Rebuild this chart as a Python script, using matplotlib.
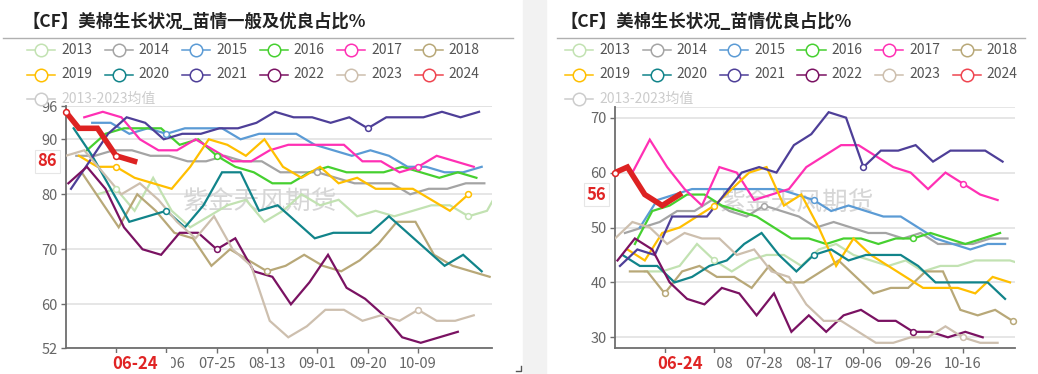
import numpy as np
import pandas as pd
import matplotlib
matplotlib.use("Agg")
import matplotlib.pyplot as plt
from matplotlib.lines import Line2D
from matplotlib.patches import Rectangle

plt.rcParams["font.family"] = ["Noto Sans CJK SC", "DejaVu Sans"]

# === 1. Data ===
years = ["2013", "2014", "2015", "2016", "2017", "2018",
         "2019", "2020", "2021", "2022", "2023", "2024"]
colors = ["#c2e2b2", "#a4a4a4", "#5b9bd5", "#46d030", "#ff30b4", "#b8a878",
          "#ffbf00", "#11848a", "#4e3f98", "#7a1262", "#cdbfae", "#dd2222"]

# first weekly report (MM-DD) of each season 2013..2023, weekly after that
first_dates = ["06-10", "06-02", "06-08", "06-06", "06-05", "06-04",
               "06-03", "06-01", "05-31", "05-30", "05-29"]
dates_2024 = ["05-29", "06-03", "06-10", "06-17", "06-24"]

# 苗情一般及优良占比 (%)
gf_2013 = [80, 81, 77, 83, 77, 74, 76, 78, 79, 75, 77, 80, 78, 79, 76, 77, 76, 77, 78, 78, 76, 77, 83]
gf_2014 = [87, 87, 88, 88, 87, 87, 86, 86, 87, 86, 86, 84, 84, 84, 83, 82, 82, 82, 80, 81, 81, 82, 82]
gf_2015 = [93, 93, 91, 92, 91, 92, 92, 92, 90, 91, 91, 91, 89, 88, 87, 88, 87, 85, 85, 84, 84, 85]
gf_2016 = [88, 91, 92, 92, 92, 89, 90, 87, 85, 84, 82, 82, 84, 85, 84, 84, 84, 85, 84, 83, 84, 83]
gf_2017 = [94, 95, 94, 90, 88, 88, 90, 88, 86, 86, 88, 89, 89, 89, 89, 86, 86, 84, 85, 87, 86, 85]
gf_2018 = [84, 79, 74, 80, 77, 73, 72, 67, 70, 68, 66, 67, 69, 67, 66, 68, 71, 75, 75, 69, 67, 66, 65]
gf_2019 = [87, 85, 85, 83, 82, 81, 85, 90, 89, 87, 90, 85, 83, 85, 82, 83, 81, 81, 81, 79, 77, 80]
gf_2020 = [92, 87, 81, 75, 76, 77, 74, 78, 84, 84, 77, 78, 75, 72, 73, 73, 73, 76, 73, 70, 67, 69, 66]
gf_2021 = [81, 86, 91, 94, 93, 90, 91, 91, 92, 92, 93, 95, 94, 94, 93, 94, 92, 94, 94, 94, 95, 94, 95]
gf_2022 = [82, 85, 81, 74, 70, 69, 73, 73, 70, 72, 66, 65, 60, 64, 69, 63, 61, 58, 54, 53, 54, 55]
gf_2023 = [87, 88, 84, 80, 82, 79, 75, 72, 76, 70, 67, 57, 54, 56, 59, 59, 57, 58, 57, 59, 57, 57, 58]
gf_2024 = [95, 92, 92, 87, 86]

# 苗情优良占比 (%)
gd_2013 = [42, 42, 43, 47, 44, 42, 44, 45, 45, 43, 46, 47, 45, 44, 43, 44, 42, 43, 43, 44, 44, 44, 43]
gd_2014 = [49, 50, 51, 53, 53, 55, 53, 52, 54, 53, 52, 50, 51, 50, 49, 49, 48, 49, 47, 47, 47, 48, 48]
gd_2015 = [50, 55, 56, 57, 57, 57, 57, 57, 57, 56, 55, 53, 54, 53, 52, 52, 50, 48, 47, 46, 47, 47]
gd_2016 = [47, 53, 54, 56, 56, 54, 53, 52, 50, 48, 48, 47, 48, 48, 47, 48, 48, 49, 48, 47, 48, 49]
gd_2017 = [60, 66, 61, 57, 54, 61, 60, 55, 56, 57, 61, 63, 65, 65, 63, 61, 60, 57, 60, 58, 56, 55]
gd_2018 = [42, 42, 38, 42, 43, 41, 41, 39, 43, 40, 40, 42, 44, 41, 38, 39, 39, 42, 42, 35, 34, 35, 33]
gd_2019 = [46, 44, 49, 50, 52, 54, 57, 60, 61, 54, 56, 50, 43, 48, 45, 43, 41, 39, 39, 39, 38, 41, 40]
gd_2020 = [45, 43, 43, 40, 41, 43, 44, 47, 49, 45, 42, 45, 46, 44, 45, 45, 45, 43, 40, 40, 40, 40, 37]
gd_2021 = [43, 46, 45, 52, 52, 52, 56, 60, 61, 60, 65, 67, 71, 70, 61, 64, 64, 65, 62, 64, 64, 64, 62]
gd_2022 = [44, 48, 46, 40, 37, 36, 39, 38, 34, 38, 31, 34, 31, 34, 35, 33, 33, 31, 31, 30, 31, 30]
gd_2023 = [48, 51, 50, 47, 49, 48, 48, 45, 46, 42, 41, 36, 33, 33, 31, 29, 29, 30, 30, 32, 30, 29, 29]
gd_2024 = [60, 61, 56, 54, 56]

gf_series = [gf_2013, gf_2014, gf_2015, gf_2016, gf_2017, gf_2018,
             gf_2019, gf_2020, gf_2021, gf_2022, gf_2023, gf_2024]
gd_series = [gd_2013, gd_2014, gd_2015, gd_2016, gd_2017, gd_2018,
             gd_2019, gd_2020, gd_2021, gd_2022, gd_2023, gd_2024]

x_range = ["05-29", "11-06"]
left_ticks = ["06-17", "07-06", "07-25", "08-13", "09-01", "09-20", "10-09", "10-28"]
right_ticks = ["06-18", "07-08", "07-28", "08-17", "09-06", "09-26", "10-16", "11-05"]

W, H = 1038, 374
RED = "#e02424"
GRAY_TXT = "#666666"


def day(md):
    return pd.Timestamp("2024-" + md)


def season_dates(i, n):
    if years[i] == "2024":
        return [day(d) for d in dates_2024]
    start = day(first_dates[i])
    return [start + pd.Timedelta(days=7 * k) for k in range(n)]


def fig_xy(x, y):
    return x / W, 1 - y / H


# === 2. One panel ===
def draw_panel(ax, series, ylim, yticks, ticks):
    tick_days = [day(t) for t in ticks]
    ax.set_xlim(day(x_range[0]), day(x_range[1]))
    ax.set_ylim(*ylim)

    for i, vals in enumerate(series):
        dates = season_dates(i, len(vals))
        last = years[i] == "2024"
        ax.plot(dates, vals, color=colors[i], lw=4.0 if last else 1.6,
                zorder=4 if last else 3, solid_joinstyle="miter")
        # open circles where a report falls on an axis tick
        mk = [k for k, d in enumerate(dates) if d in tick_days or (last and k == 0)]
        ax.plot([dates[k] for k in mk], [vals[k] for k in mk], "o", ms=4.2,
                mfc="white", mec=colors[i], mew=1.1, zorder=5, clip_on=False)

    ax.set_xticks(tick_days[:7])
    ax.set_xticklabels([""] + [t for t in ticks[1:7]])
    ax.set_yticks(yticks)
    ax.tick_params(axis="both", colors="#6e6e6e", labelcolor=GRAY_TXT,
                   labelsize=10.5, length=3.5, width=1)
    ax.tick_params(axis="x", pad=2.5)
    ax.tick_params(axis="y", pad=2.5)

    for s in ["top", "right"]:
        ax.spines[s].set_visible(False)
    for s in ["left", "bottom"]:
        ax.spines[s].set_color("#6e6e6e")
        ax.spines[s].set_linewidth(1.3)
    ax.yaxis.grid(True, color="#e2e2e2", lw=1.2)
    ax.set_axisbelow(True)
    ax.axhline(ylim[1], color="#e2e2e2", lw=1.2, zorder=0)

    ax.text(0.455, 0.60, "紫金天风期货", transform=ax.transAxes, ha="center",
            va="center", fontsize=18.5, color="#d6d6d6", zorder=1)

    # latest date and latest value in red
    last_dates = season_dates(11, len(series[11]))
    ax.annotate(dates_2024[-1], xy=(last_dates[-1], 0),
                xycoords=("data", "axes fraction"), xytext=(0, -5),
                textcoords="offset points", ha="center", va="top",
                fontsize=12, fontweight="bold", color=RED, zorder=6,
                annotation_clip=False,
                bbox=dict(boxstyle="square,pad=0.8", fc="white", ec="none",
                          mutation_aspect=0.15))
    ax.annotate(str(series[11][-1]), xy=(0, series[11][-1]),
                xycoords=("axes fraction", "data"), xytext=(-6, 0),
                textcoords="offset points", ha="right", va="center",
                fontsize=12, fontweight="bold", color=RED, zorder=6,
                annotation_clip=False,
                bbox=dict(boxstyle="square,pad=0.15", fc="white", ec="#e6e6e6",
                          lw=0.8))


def draw_header(x0, x_line, title):
    fig.text(*fig_xy(x0 - 5, 22), title, fontsize=12.5, fontweight="bold",
             color="#222222", va="center", ha="left")
    fig.add_artist(Line2D([x_line[0] / W, x_line[1] / W], [1 - 38 / H] * 2,
                          color="#b0b0b0", lw=1))
    labels = years + ["2013-2023均值"]
    cols = colors[:11] + ["#ef4550", "#cccccc"]
    for k, lab in enumerate(labels):
        lx = x0 + 77.5 * (k % 6)
        ly = [50, 74.5, 99][k // 6]
        c = cols[k]
        fig.add_artist(Line2D([lx / W, (lx + 28) / W], [1 - ly / H] * 2,
                              color=c, lw=1.1, zorder=10))
        fig.add_artist(Line2D([(lx + 14) / W], [1 - ly / H], marker="o", ms=9,
                              mfc="white", mec=c, mew=1.1, zorder=11))
        fig.text(*fig_xy(lx + 34, ly), lab, fontsize=10,
                 color="#cccccc" if k == 12 else "#555555",
                 va="center", ha="left", zorder=11)


# === 3. Figure ===
fig = plt.figure(figsize=(W / 100, H / 100), dpi=100)
fig.patches.append(Rectangle((523 / W, 0), 23 / W, 1, transform=fig.transFigure,
                             color="#f2f2f2", zorder=0))

ax1 = fig.add_axes([65.7 / W, 1 - 348.3 / H, 426.6 / W, 242.0 / H])
draw_panel(ax1, gf_series, (52, 96), [52, 60, 70, 80, 90, 96], left_ticks)

ax2 = fig.add_axes([615 / W, 1 - 348.3 / H, 400 / W, 241.6 / H])
draw_panel(ax2, gd_series, (28, 72), [30, 40, 50, 60, 70], right_ticks)

draw_header(27, (3, 513), "【CF】美棉生长状况_苗情一般及优良占比%")
draw_header(565, (557, 1025), "【CF】美棉生长状况_苗情优良占比%")

# small corner mark of the left panel
fig.add_artist(Line2D([516 / W, 521 / W, 521 / W],
                      [1 - 371 / H, 1 - 371 / H, 1 - 366 / H],
                      color="#555555", lw=1))

fig.savefig("out.png", dpi=100)
